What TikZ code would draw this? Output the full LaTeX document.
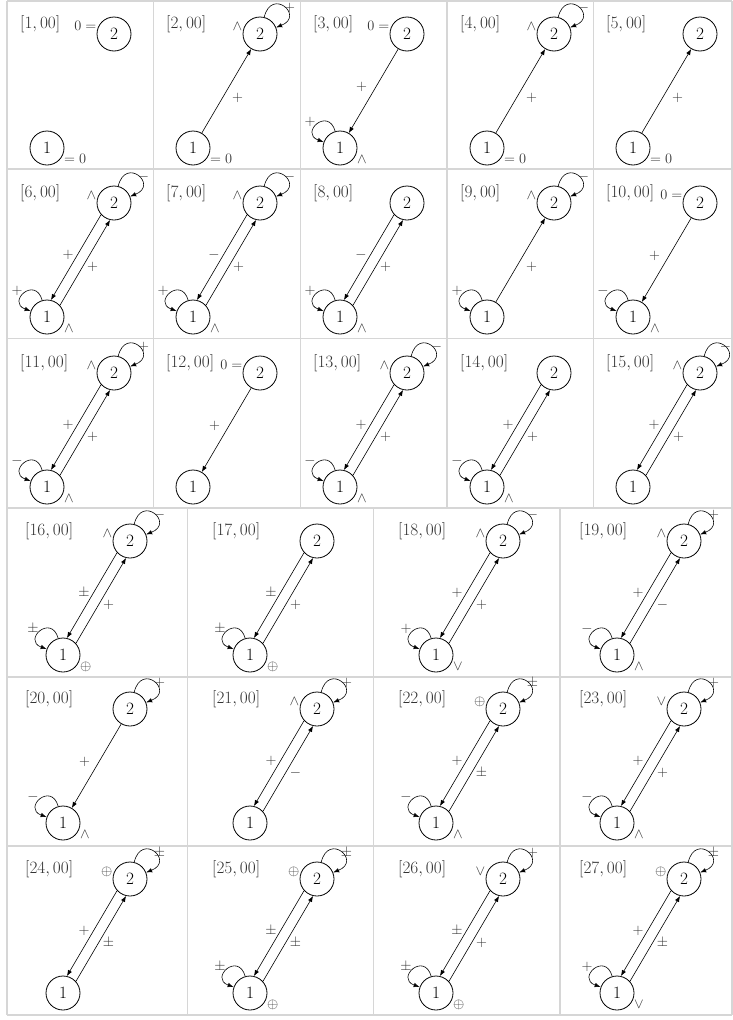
\documentclass[tikz,border=0pt]{standalone}
\usetikzlibrary{calc,arrows.meta}
\tikzset{
 st/.style={draw, circle, minimum size=34pt, inner sep=0pt, line width=0.8pt, font=\fontsize{17.28}{20}\selectfont},
 ttl/.style={text=black!80, font=\fontsize{17.28}{20}\selectfont, inner sep=0pt},
 sm/.style={text=black!80, font=\fontsize{14.4}{16}\selectfont, inner sep=0pt},
 arr/.style={-{Latex[length=6pt,width=4.5pt]}, line width=0.6pt},
 gridline/.style={draw=black!16, line width=1.2pt}
}
\newcommand\cellAt[4]{%
  \node[st] (a#1) at (#2,-#3) {1};
  \node[st] (b#1) at ($(a#1)+(67,114)$) {2};
  \node[ttl, anchor=base west] (t#1) at ($(a#1)+(#4,119.5)$) {$[#1,00]$};}
\newcommand\labB[2]{\node[sm,anchor=base east] (lb#1) at ($(b#1)+(-17.5,4)$) {$#2$};}
\newcommand\labA[2]{\node[sm,anchor=base west] (la#1) at ($(a#1)+(17,-15)$) {$#2$};}
\newcommand\loopB[3][29.5]{\draw[arr] (b#2) to[out=76,in=22,min distance=31pt] (b#2);
  \node[sm] (pb#2) at ($(b#2)+(#1,26)$) {$#3$};}
\newcommand\loopA[2]{\draw[arr] (a#1) to[out=106,in=160,min distance=26pt] (a#1);
  \node[sm] (pa#1) at ($(a#1)+(-30,26)$) {$#2$};}
\newcommand\edgeU[2]{\draw[arr] (a#1) -- (b#1);
  \node[sm] (eu#1) at ($(a#1)!.5!(b#1)+(11,-7)$) {$#2$};}
\newcommand\edgeD[2]{\draw[arr] (b#1) -- (a#1);
  \node[sm] (ed#1) at ($(a#1)!.5!(b#1)+(-12,4)$) {$#2$};}
\newcommand\dblU[2]{\draw[arr] (a#1.42) -- (b#1.257);
  \node[sm] (du#1) at ($(a#1)!.5!(b#1)+(12,-7)$) {$#2$};}
\newcommand\dblD[2]{\draw[arr] (b#1.222) -- (a#1.77);
  \node[sm] (dd#1) at ($(a#1)!.5!(b#1)+(-12.5,5)$) {$#2$};}
\begin{document}
\begin{tikzpicture}[x=1pt,y=1pt]
\useasboundingbox (0,0) rectangle (733,-1020);
% grid
\foreach \yy in {1,169,338.5,508,677,846,1015} \draw[gridline] (7,-\yy) -- (732,-\yy);
\foreach \xx in {7,153.3,300.7,447,593.3,732} \draw[gridline] (\xx,-1) -- (\xx,-508);
\foreach \xx in {7,187.7,373.3,560,732} \draw[gridline] (\xx,-508) -- (\xx,-1015);
% row 1
\cellAt{1}{47}{148}{-27} \labB{1}{0=} \labA{1}{=0}
\cellAt{2}{193}{148}{-27} \labB{2}{\wedge} \loopB{2}{+} \edgeU{2}{+} \labA{2}{=0}
\cellAt{3}{340}{148}{-27} \labB{3}{0=} \edgeD{3}{+} \loopA{3}{+} \labA{3}{\wedge}
\cellAt{4}{487}{148}{-27} \labB{4}{\wedge} \loopB{4}{-} \edgeU{4}{+} \labA{4}{=0}
\cellAt{5}{633}{148}{-27} \edgeU{5}{+} \labA{5}{=0}
% row 2
\cellAt{6}{47}{317}{-27} \labB{6}{\wedge} \loopB{6}{-} \dblD{6}{+} \dblU{6}{+} \loopA{6}{+} \labA{6}{\wedge}
\cellAt{7}{193}{317}{-27} \labB{7}{\wedge} \loopB{7}{-} \dblD{7}{-} \dblU{7}{+} \loopA{7}{+} \labA{7}{\wedge}
\cellAt{8}{340}{317}{-27} \dblD{8}{-} \dblU{8}{+} \loopA{8}{+} \labA{8}{\wedge}
\cellAt{9}{487}{317}{-27} \labB{9}{\wedge} \loopB{9}{-} \edgeU{9}{+} \loopA{9}{+}
\cellAt{10}{633}{317}{-27} \labB{10}{0=} \edgeD{10}{+} \loopA{10}{-} \labA{10}{\wedge}
% row 3
\cellAt{11}{47}{487}{-27} \labB{11}{\wedge} \loopB{11}{+} \dblD{11}{+} \dblU{11}{+} \loopA{11}{-} \labA{11}{\wedge}
\cellAt{12}{193}{487}{-27} \labB{12}{0=} \edgeD{12}{+}
\cellAt{13}{340}{487}{-27} \labB{13}{\wedge} \loopB{13}{-} \dblD{13}{+} \dblU{13}{+} \loopA{13}{-} \labA{13}{\wedge}
\cellAt{14}{487}{487}{-27} \dblD{14}{+} \dblU{14}{+} \loopA{14}{-} \labA{14}{\wedge}
\cellAt{15}{633}{487}{-27} \labB{15}{\wedge} \loopB[25.5]{15}{-} \dblD{15}{+} \dblU{15}{+}
% row 4
\cellAt{16}{63}{655}{-38} \labB{16}{\wedge} \loopB{16}{-} \dblD{16}{\pm} \dblU{16}{+} \loopA{16}{\pm} \labA{16}{\oplus}
\cellAt{17}{250}{655}{-38} \dblD{17}{\pm} \dblU{17}{+} \loopA{17}{\pm} \labA{17}{\oplus}
\cellAt{18}{436}{655}{-38} \labB{18}{\wedge} \loopB{18}{-} \dblD{18}{+} \dblU{18}{+} \loopA{18}{+} \labA{18}{\vee}
\cellAt{19}{617}{655}{-38} \labB{19}{\wedge} \loopB{19}{+} \dblD{19}{+} \dblU{19}{-} \loopA{19}{-} \labA{19}{\wedge}
% row 5
\cellAt{20}{63}{823}{-38} \loopB{20}{+} \edgeD{20}{+} \loopA{20}{-} \labA{20}{\wedge}
\cellAt{21}{250}{823}{-38} \labB{21}{\wedge} \loopB{21}{+} \dblD{21}{+} \dblU{21}{-}
\cellAt{22}{436}{823}{-38} \labB{22}{\oplus} \loopB{22}{\pm} \dblD{22}{+} \dblU{22}{\pm} \loopA{22}{-} \labA{22}{\wedge}
\cellAt{23}{617}{823}{-38} \labB{23}{\vee} \loopB{23}{+} \dblD{23}{+} \dblU{23}{+} \loopA{23}{-} \labA{23}{\wedge}
% row 6
\cellAt{24}{63}{993}{-38} \labB{24}{\oplus} \loopB{24}{\pm} \dblD{24}{+} \dblU{24}{\pm}
\cellAt{25}{250}{993}{-38} \labB{25}{\oplus} \loopB{25}{\pm} \dblD{25}{\pm} \dblU{25}{\pm} \loopA{25}{\pm} \labA{25}{\oplus}
\cellAt{26}{436}{993}{-38} \labB{26}{\vee} \loopB{26}{+} \dblD{26}{\pm} \dblU{26}{+} \loopA{26}{\pm} \labA{26}{\oplus}
\cellAt{27}{617}{993}{-38} \labB{27}{\oplus} \loopB{27}{\pm} \dblD{27}{+} \dblU{27}{\pm} \loopA{27}{+} \labA{27}{\vee}
\end{tikzpicture}
\end{document}
